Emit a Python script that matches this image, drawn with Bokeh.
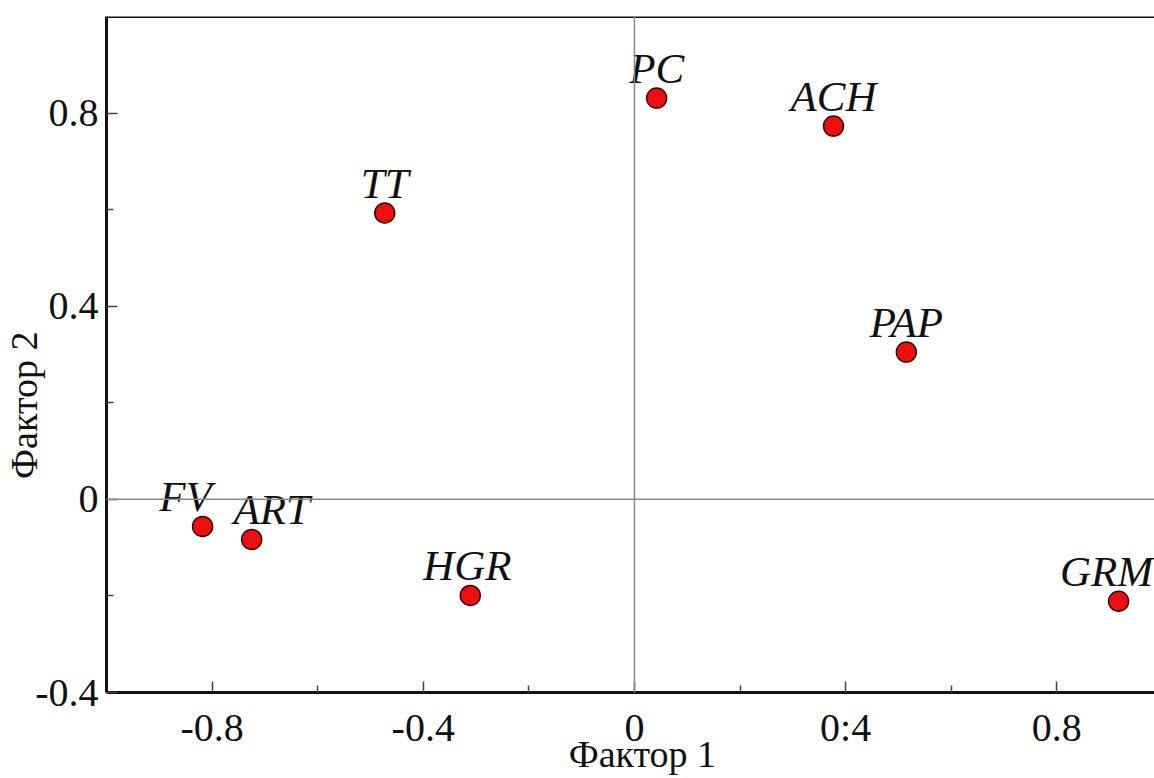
from bokeh.plotting import figure
from bokeh.models import ColumnDataSource, Range1d, FixedTicker, Span, LinearAxis
from bokeh.embed import file_html
from bokeh.resources import INLINE
from bokeh.core.properties import value

# ---- data ----
names = ["PC", "ACH", "TT", "PAP", "FV", "ART", "HGR", "GRM"]
factor1 = [0.042, 0.377, -0.473, 0.515, -0.818, -0.725, -0.311, 0.917]
factor2 = [0.831, 0.773, 0.593, 0.305, -0.056, -0.083, -0.199, -0.211]

x_major = [-0.8, -0.4, 0.0, 0.4, 0.8]
x_major_labels = ["-0.8", "-0.4", "0", "0:4", "0.8"]
x_minor = [-0.6, -0.2, 0.2, 0.6]
y_major = [-0.4, 0.0, 0.4, 0.8]
y_major_labels = ["-0.4", "0", "0.4", "0.8"]
y_minor = [-0.2, 0.2, 0.6]

x_title = "Фактор 1"
y_title = "Фактор 2"

# layout-only constants
label_dx = [0, 0, 0, 0, -17, 20, -3, -12]  # label nudges in px
X_TITLE_AT = 0.015                          # where the axis titles sit
Y_TITLE_AT = 0.195

SERIF = "Liberation Serif"

src = ColumnDataSource(dict(x=factor1, y=factor2, name=names, dx=label_dx))

p = figure(width=1154, height=778, output_backend="svg", toolbar_location=None,
           x_range=Range1d(-1.0, 0.985), y_range=Range1d(-0.4, 1.0),
           min_border_left=106, min_border_top=16, min_border_right=0,
           min_border_bottom=86)
p.outline_line_color = None
p.grid.visible = False
p.background_fill_color = "white"
p.border_fill_color = "white"

# axes
for ax, major, labels, minor in ((p.xaxis[0], x_major, x_major_labels, x_minor),
                                 (p.yaxis[0], y_major, y_major_labels, y_minor)):
    ax.ticker = FixedTicker(ticks=major, minor_ticks=minor)
    ax.major_label_overrides = {float(t): l for t, l in zip(major, labels)}
    ax.axis_line_color = "#111111"
    ax.axis_line_width = 3
    ax.major_tick_in = 11
    ax.major_tick_out = 0
    ax.minor_tick_in = 7
    ax.minor_tick_out = 0
    ax.major_tick_line_color = "#444444"
    ax.major_tick_line_width = 1.5
    ax.minor_tick_line_color = "#444444"
    ax.minor_tick_line_width = 1.5
    ax.major_label_text_font = SERIF
    ax.major_label_text_font_size = "40px"
    ax.major_label_text_color = "#111111"
p.xaxis[0].major_label_standoff = 12
p.yaxis[0].major_label_standoff = 8


def title_axis(at, text, orientation, standoff):
    ax = LinearAxis()
    ax.ticker = FixedTicker(ticks=[at], minor_ticks=[])
    ax.major_label_overrides = {at: text}
    ax.axis_line_color = None
    ax.major_tick_line_color = None
    ax.minor_tick_line_color = None
    ax.major_tick_in = 0
    ax.major_tick_out = 0
    ax.minor_tick_in = 0
    ax.minor_tick_out = 0
    ax.major_label_orientation = orientation
    ax.major_label_standoff = standoff
    ax.major_label_text_font = SERIF
    ax.major_label_text_font_size = "38px"
    ax.major_label_text_color = "#111111"
    return ax


p.add_layout(title_axis(X_TITLE_AT, x_title, "horizontal", -20), "below")
p.add_layout(title_axis(Y_TITLE_AT, y_title, "vertical", -13), "left")

# top border and origin lines
p.add_layout(Span(location=1.0, dimension="width", line_color="#111111", line_width=3))
p.add_layout(Span(location=0, dimension="width", line_color="#8a8a8a", line_width=1.5))
p.add_layout(Span(location=0, dimension="height", line_color="#8a8a8a", line_width=1.5))

# points
p.scatter("x", "y", source=src, size=20, fill_color="#ee1010",
          line_color="#3a0000", line_width=1.5)

# point labels
p.text("x", "y", text="name", source=src, x_offset="dx", y_offset=-30,
       text_align="center", text_baseline="alphabetic",
       text_font=value(SERIF), text_font_style="italic",
       text_font_size="43px", text_color="#111111")

open("out.html", "w").write(file_html(p, INLINE))
